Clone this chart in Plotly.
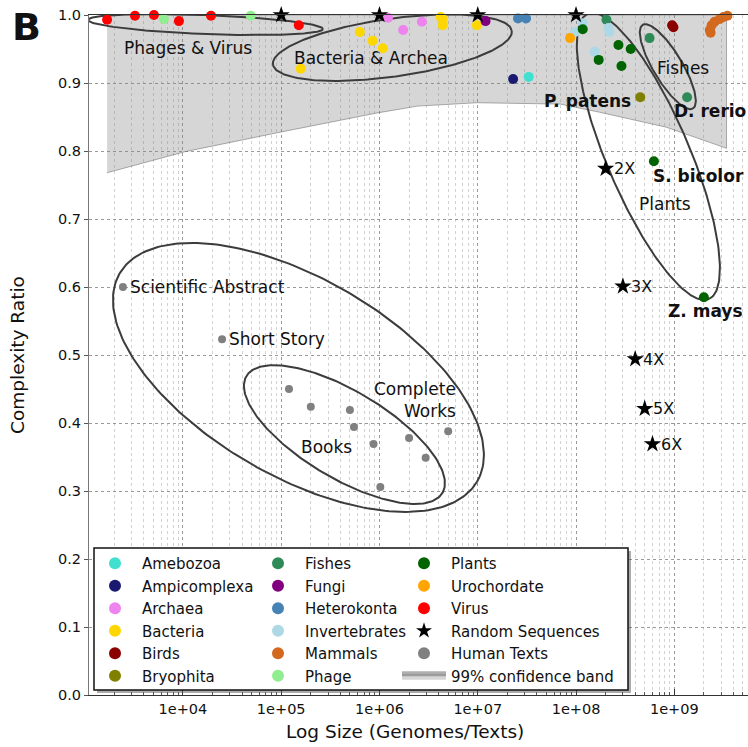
import numpy as np
import plotly.graph_objects as go

# ---------------- data: genome / text size and complexity ratio ----------------
amebozoa_x = [3.3e7]
amebozoa_y = [0.909]
ampicomplexa_x = [2.29e7]
ampicomplexa_y = [0.906]
archaea_x = [1.22e6, 1.74e6, 2.7e6]
archaea_y = [0.996, 0.978, 0.990]
bacteria_x = [1.58e5, 6.3e5, 8.5e5, 1.08e6, 4.2e6, 4.4e6, 4.4e6, 9.8e6]
bacteria_y = [0.921, 0.975, 0.962, 0.951, 0.997, 0.994, 0.985, 0.985]
birds_x = [9.5e8, 9.8e8]
birds_y = [0.985, 0.982]
bryophita_x = [4.5e8]
bryophita_y = [0.879]
fishes_x = [2.04e8, 5.6e8, 1.35e9]
fishes_y = [0.993, 0.966, 0.879]
fungi_x = [1.2e7]
fungi_y = [0.991]
heterokonta_x = [2.57e7, 3.1e7]
heterokonta_y = [0.995, 0.995]
invertebrates_x = [1.17e8, 9.8e7, 2.14e8, 2.19e8, 1.55e8]
invertebrates_y = [0.988, 0.975, 0.981, 0.975, 0.946]
mammals_x = [2.3e9, 2.34e9, 2.4e9, 2.57e9, 2.9e9, 3.16e9, 3.47e9]
mammals_y = [0.978, 0.974, 0.985, 0.990, 0.994, 0.997, 0.999]
phage_x = [6.4e3, 4.9e4]
phage_y = [0.994, 0.999]
plants_x = [1.17e8, 2.7e8, 3.6e8, 1.7e8, 2.9e8, 6.2e8, 2.0e9]
plants_y = [0.979, 0.956, 0.950, 0.934, 0.925, 0.785, 0.585]
urochordate_x = [8.7e7]
urochordate_y = [0.966]
virus_x = [1.69e3, 3.25e3, 5.07e3, 9.1e3, 1.93e4, 1.51e5]
virus_y = [0.993, 0.999, 1.0, 0.991, 0.999, 0.985]

random_x = [1e5, 1e6, 1e7, 1e8, 2e8, 3e8, 4e8, 5e8, 6e8]
random_y = [1.0, 1.0, 1.0, 1.0, 0.774, 0.601, 0.494, 0.421, 0.369]
random_labels = ["", "", "", "", "2X", "3X", "4X", "5X", "6X"]

texts_x = [2.45e3, 2.5e4, 1.2e5, 2.0e5, 5.0e5, 5.5e5, 8.7e5, 1.02e6, 2.0e6, 2.95e6, 5.0e6]
texts_y = [0.600, 0.523, 0.450, 0.424, 0.419, 0.394, 0.369, 0.306, 0.378, 0.349, 0.388]
texts_labels = ["Scientific Abstract", "Short Story", "", "", "", "", "", "", "", "", ""]

band_x = [1.69e3, 1.05e4, 1.0e5, 9.5e5, 2.45e6, 9.8e6, 6.9e7, 1.74e8, 8.3e8, 3.4e9]
band_lo = [0.768, 0.799, 0.828, 0.856, 0.866, 0.871, 0.869, 0.857, 0.835, 0.804]
band_hi = [1.0] * len(band_x)

x_tickvals = [1e4, 1e5, 1e6, 1e7, 1e8, 1e9]
x_ticktext = ["1e+04", "1e+05", "1e+06", "1e+07", "1e+08", "1e+09"]
y_tickvals = [round(0.1 * i, 1) for i in range(11)]
y_ticktext = [f"{v:.1f}" for v in y_tickvals]

# ---------------- layout geometry ----------------
W, H = 748, 747
ML, MR, MT, MB = 89, 0, 15, 52
PW, PH = W - ML - MR, H - MT - MB
XR = [3.044, 9.75]           # log10 range of the x axis
YR = [0.0, 1.0]
PX_DEC = PW / (XR[1] - XR[0])   # pixels per decade
PX_UNIT = PH / (YR[1] - YR[0])  # pixels per unit of ratio

FONT = "DejaVu Sans"
INK = "#111111"


def px_x(p):
    return (p - ML) / PW


def px_y(p):
    return (H - MB - p) / PH


def ellipse(cx_log, cy, a_px, b_px, ang_deg, n=240):
    """Ellipse given in screen pixels, returned in data coordinates."""
    t = np.linspace(0, 2 * np.pi, n)
    th = np.deg2rad(ang_deg)
    dx = a_px * np.cos(t) * np.cos(th) - b_px * np.sin(t) * np.sin(th)
    dy = a_px * np.cos(t) * np.sin(th) + b_px * np.sin(t) * np.cos(th)
    return 10 ** (cx_log + dx / PX_DEC), cy - dy / PX_UNIT


fig = go.Figure()

# confidence band
fig.add_trace(go.Scatter(
    x=band_x + band_x[::-1], y=band_lo + band_hi[::-1],
    fill="toself", fillcolor="rgba(128,128,128,0.32)",
    line=dict(color="rgba(110,110,110,0.55)", width=1),
    mode="lines", name="99% confidence band", legend="legend3", legendrank=6,
    hoverinfo="skip", cliponaxis=False))

# group outlines: (center log10 x, center y, semi-axis a px, semi-axis b px, angle)
outlines = [
    (4.229, 0.986, 117.6, 9.5, 2.2),     # phages & virus
    (6.131, 0.952, 120.6, 29.0, -8.0),   # bacteria & archea
    (8.934, 0.924, 48.8, 14.5, 59.0),    # fishes
    (8.736, 0.792, 154.9, 41.5, 67.0),   # plants
    (5.175, 0.467, 206.8, 98.6, 30.2),   # human texts
    (5.643, 0.383, 114.1, 43.6, 30.8),   # books
]
for cxl, cy, a, b, ang in outlines:
    ex, ey = ellipse(cxl, cy, a, b, ang)
    fig.add_trace(go.Scatter(x=ex, y=ey, mode="lines",
                             line=dict(color="#3c3c3c", width=2),
                             showlegend=False, hoverinfo="skip", cliponaxis=False))

groups = [
    # name, x, y, color, legend, rank
    ("Amebozoa", amebozoa_x, amebozoa_y, "#40E0D0", "legend", 1),
    ("Ampicomplexa", ampicomplexa_x, ampicomplexa_y, "#191970", "legend", 2),
    ("Archaea", archaea_x, archaea_y, "#EE82EE", "legend", 3),
    ("Bacteria", bacteria_x, bacteria_y, "#FFD700", "legend", 4),
    ("Birds", birds_x, birds_y, "#8B0000", "legend", 5),
    ("Bryophita", bryophita_x, bryophita_y, "#808000", "legend", 6),
    ("Fishes", fishes_x, fishes_y, "#2E8B57", "legend2", 1),
    ("Fungi", fungi_x, fungi_y, "#800080", "legend2", 2),
    ("Heterokonta", heterokonta_x, heterokonta_y, "#4682B4", "legend2", 3),
    ("Invertebrates", invertebrates_x, invertebrates_y, "#ADD8E6", "legend2", 4),
    ("Mammals", mammals_x, mammals_y, "#D2691E", "legend2", 5),
    ("Phage", phage_x, phage_y, "#90EE90", "legend2", 6),
    ("Plants", plants_x, plants_y, "#006400", "legend3", 1),
    ("Urochordate", urochordate_x, urochordate_y, "#FFA500", "legend3", 2),
    ("Virus", virus_x, virus_y, "#FF0000", "legend3", 3),
]
for name, gx, gy, col, leg, rank in groups:
    fig.add_trace(go.Scatter(
        x=gx, y=gy, mode="markers", name=name, legend=leg, legendrank=rank,
        marker=dict(color=col, size=10, line=dict(width=0)), cliponaxis=False))

fig.add_trace(go.Scatter(
    x=texts_x, y=texts_y, mode="markers", name="Human Texts", legend="legend3",
    legendrank=5, marker=dict(color="#808080", size=8, line=dict(width=0)),
    cliponaxis=False))
fig.add_trace(go.Scatter(
    x=random_x, y=random_y, mode="markers", name="Random Sequences", legend="legend3",
    legendrank=4, marker=dict(color="black", size=13, symbol="star", line=dict(width=0)),
    cliponaxis=False))

annotations = []


def note(text, x, y, size=17, bold=False, xanchor="center", xshift=0, yshift=0, align="center"):
    annotations.append(dict(
        text=f"<b>{text}</b>" if bold else text, x=x, y=y, xref="x", yref="y",
        showarrow=False, xanchor=xanchor, yanchor="middle", xshift=xshift, yshift=yshift,
        align=align, font=dict(family=FONT, size=size, color=INK)))


# labels next to marks
for xv, yv, lab in zip(random_x, random_y, random_labels):
    if lab:
        note(lab, np.log10(xv), yv, size=16, xanchor="left", xshift=6)
for xv, yv, lab in zip(texts_x, texts_y, texts_labels):
    if lab:
        note(lab, np.log10(xv), yv, size=17, xanchor="left", xshift=5)

# group captions
note("Phages &amp; Virus", 4.05, 0.951)
note("Bacteria &amp; Archea", 5.91, 0.937)
note("Fishes", 9.09, 0.922)
note("Plants", 8.91, 0.722)
note("Books", 5.465, 0.365)
note("Complete<br>Works", 6.80, 0.434, xanchor="right", align="right")

# species names
note("P. patens", 8.578, 0.8735, bold=True, xanchor="right")
note("D. rerio", 8.975, 0.859, bold=True, xanchor="left")
note("S. bicolor", 8.766, 0.763, bold=True, xanchor="left")
note("Z. mays", 8.92, 0.565, bold=True, xanchor="left")

# axis titles and panel letter
annotations.append(dict(text="Log Size (Genomes/Texts)", x=px_x(405), y=px_y(731),
                        xref="paper", yref="paper", showarrow=False,
                        xanchor="center", yanchor="middle",
                        font=dict(family=FONT, size=18.5, color=INK)))
annotations.append(dict(text="Complexity Ratio", x=px_x(17), y=0.5, textangle=-90,
                        xref="paper", yref="paper", showarrow=False,
                        xanchor="center", yanchor="middle",
                        font=dict(family=FONT, size=18.5, color=INK)))
annotations.append(dict(text="<b>B</b>", x=px_x(26), y=px_y(27),
                        xref="paper", yref="paper", showarrow=False,
                        xanchor="center", yanchor="middle",
                        font=dict(family=FONT, size=38, color=INK)))

# legend frame with a soft drop shadow
LB = (94, 548, 628, 690)
shapes = [
    dict(type="rect", xref="paper", yref="paper", layer="above",
         x0=px_x(LB[0] + 3), x1=px_x(LB[2] + 3), y0=px_y(LB[3] + 3), y1=px_y(LB[1] + 3),
         fillcolor="rgba(90,90,90,0.5)", line=dict(width=0)),
    dict(type="rect", xref="paper", yref="paper", layer="above",
         x0=px_x(LB[0]), x1=px_x(LB[2]), y0=px_y(LB[3]), y1=px_y(LB[1]),
         fillcolor="white", line=dict(color="#111111", width=1.5)),
]

minor_vals = [k * 10 ** n for n in range(3, 10) for k in range(2, 10)]

leg_common = dict(yanchor="top", xanchor="left", bgcolor="rgba(0,0,0,0)", borderwidth=0,
                  font=dict(family=FONT, size=15, color=INK), itemsizing="constant",
                  itemwidth=44, traceorder="normal", tracegroupgap=0)

fig.update_layout(
    width=W, height=H,
    margin=dict(l=ML, r=MR, t=MT, b=MB, pad=0),
    paper_bgcolor="white", plot_bgcolor="white",
    font=dict(family=FONT, size=14.5, color=INK),
    showlegend=True,
    legend=dict(x=px_x(88), y=px_y(547), **leg_common),
    legend2=dict(x=px_x(251), y=px_y(547), **leg_common),
    legend3=dict(x=px_x(397), y=px_y(547), **leg_common),
    xaxis=dict(type="log", range=XR, tickvals=x_tickvals, ticktext=x_ticktext,
               ticks="inside", ticklen=6, tickcolor="#333", showline=True,
               linecolor="#333", linewidth=1.2, mirror=True,
               showgrid=True, gridcolor="#9a9a9a", griddash="dot", gridwidth=1,
               zeroline=False, tickfont=dict(family=FONT, size=14.5, color=INK),
               minor=dict(tickvals=minor_vals, ticks="inside", ticklen=3, tickcolor="#555",
                          showgrid=True, gridcolor="#d2d2d2", griddash="dot", gridwidth=1)),
    yaxis=dict(range=YR, tickvals=y_tickvals, ticktext=y_ticktext,
               ticks="outside", ticklen=4, tickcolor="#555", showline=True,
               linecolor="#777", linewidth=1.2, mirror=False,
               showgrid=True, gridcolor="#9a9a9a", griddash="dot", gridwidth=1,
               zeroline=False, tickfont=dict(family=FONT, size=14.5, color=INK)),
    annotations=annotations,
    shapes=shapes,
)

fig.write_html("out.html")
